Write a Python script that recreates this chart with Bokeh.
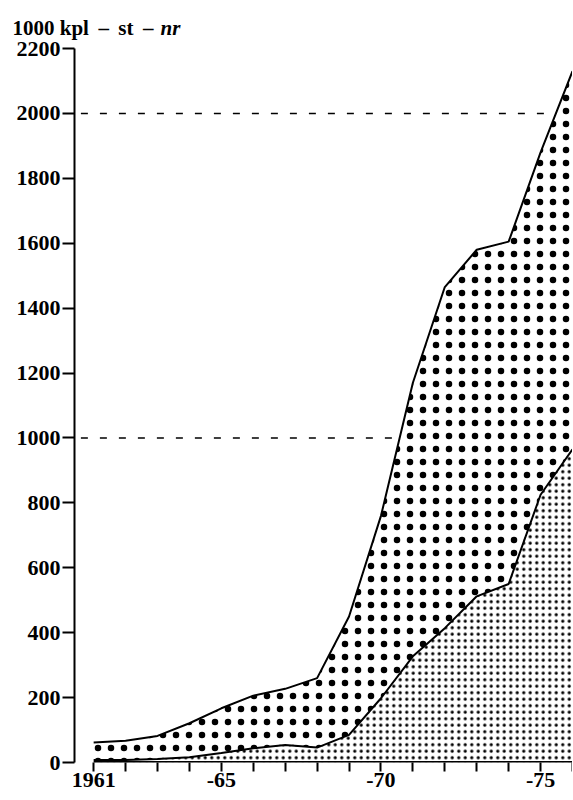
import numpy as np
from bokeh.plotting import figure
from bokeh.models import Range1d, FixedTicker, Label
from bokeh.embed import file_html
from bokeh.resources import INLINE

# ---- data ----
years = [1961, 1962, 1963, 1964, 1965, 1966, 1967, 1968,
         1969, 1970, 1971, 1972, 1973, 1974, 1975, 1976]
total = [62, 67, 82, 121, 167, 206, 227, 260,
         450, 760, 1170, 1465, 1580, 1605, 1880, 2130]
part = [8, 8, 11, 16, 29, 44, 54, 46,
        85, 198, 327, 414, 512, 550, 825, 965]
y_ticks = list(range(0, 2201, 200))
x_tick_labels = {1961: "1961", 1965: "-65", 1970: "-70", 1975: "-75"}
ref_levels = [1000, 2000]
title_main = "1000 kpl\u2009 –\u2009 st\u2009 –"
title_unit = "nr"

FONT = "Liberation Serif"
Y_TOP = 2200

p = figure(width=572, height=798, output_backend="svg", toolbar_location=None,
           x_range=Range1d(1960.4, 1976.0), y_range=Range1d(0, Y_TOP),
           min_border_left=74, min_border_right=0, min_border_top=48,
           min_border_bottom=36)
p.grid.visible = False
p.outline_line_color = None
p.background_fill_color = "white"
p.border_fill_color = "white"

# lower area (fine dots)
p.varea(x=years, y1=0, y2=part, fill_color=None, fill_alpha=0,
        hatch_pattern="dot", hatch_scale=6.5, hatch_weight=0.45,
        hatch_color="black")
# upper area (coarse dots)
p.varea(x=years, y1=part, y2=total, fill_color=None, fill_alpha=0,
        hatch_pattern="dot", hatch_scale=13, hatch_weight=0.1,
        hatch_color="black")

p.line(years, total, line_color="black", line_width=2)
p.line(years, part, line_color="black", line_width=2)

# base line along zero, from first to last year
p.segment(x0=[years[0]], y0=[0], x1=[years[-1]], y1=[0],
          line_color="black", line_width=3)

# dashed reference lines ending at the total curve
for lvl in ref_levels:
    xi = float(np.interp(lvl, total, years))
    p.line([p.x_range.start + 0.2, xi], [lvl, lvl], line_color="black",
           line_width=1.5, line_dash="7 12")

# axes
p.xaxis.ticker = FixedTicker(ticks=years)
p.xaxis.major_label_overrides = {y: x_tick_labels.get(y, "") for y in years}
p.xaxis.axis_line_color = None
p.xaxis.major_tick_in = 0
p.xaxis.major_tick_out = 9
p.xaxis.major_tick_line_width = 2
p.xaxis.major_label_standoff = 1

p.yaxis.ticker = FixedTicker(ticks=y_ticks)
p.yaxis.bounds = (0, Y_TOP)
p.yaxis.axis_line_width = 2
p.yaxis.major_tick_in = 0
p.yaxis.major_tick_out = 12
p.yaxis.major_tick_line_width = 2
p.yaxis.major_label_standoff = 2

for ax in (p.xaxis[0], p.yaxis[0]):
    ax.major_label_text_font = FONT
    ax.major_label_text_font_style = "bold"
    ax.major_label_text_font_size = "22px"
    ax.major_label_text_color = "black"
    ax.minor_tick_line_color = None

# title in two pieces (unit in italic), placed in the top panel
p.add_layout(Label(x=p.x_range.start, y=Y_TOP, x_offset=-62, y_offset=21,
                   text=title_main, text_font=FONT, text_font_style="bold",
                   text_font_size="21px", text_baseline="alphabetic",
                   text_color="black"), "above")
p.add_layout(Label(x=p.x_range.start, y=Y_TOP, x_offset=86, y_offset=21,
                   text=title_unit, text_font=FONT, text_font_style="bold italic",
                   text_font_size="21px", text_baseline="alphabetic",
                   text_color="black"), "above")

open("out.html", "w").write(file_html(p, INLINE))
